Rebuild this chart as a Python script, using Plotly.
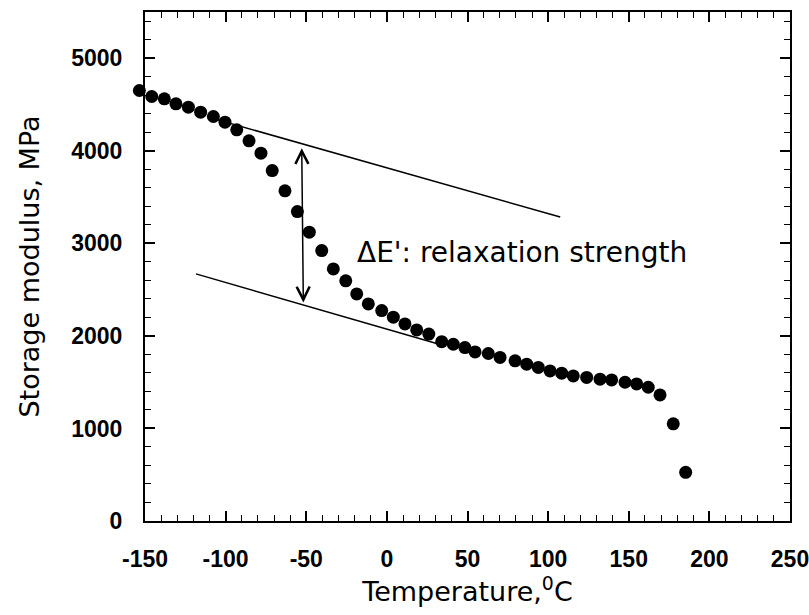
import plotly.graph_objects as go

# ---- data ----
temperature_c = [-153.5, -145.8, -138.0, -130.8, -123.1, -115.5, -107.6, -100.4, -93.1, -85.5,
                 -78.1, -71.1, -63.2, -55.5, -48.1, -40.4, -33.2, -25.5, -18.7, -11.5,
                 -3.2, 4.0, 11.2, 18.5, 26.0, 34.0, 41.2, 48.4, 54.7, 62.9,
                 70.2, 79.5, 86.7, 93.9, 101.2, 108.4, 115.6, 123.9, 132.2, 139.4,
                 147.7, 154.9, 162.1, 169.4, 177.6, 185.3]
storage_modulus = [4652, 4587, 4562, 4508, 4472, 4418, 4371, 4310, 4227, 4108,
                   3975, 3787, 3568, 3344, 3121, 2922, 2724, 2595, 2454, 2346,
                   2274, 2202, 2130, 2065, 2020, 1938, 1910, 1874, 1827, 1810,
                   1767, 1731, 1695, 1659, 1622, 1597, 1568, 1551, 1532, 1524,
                   1499, 1481, 1445, 1362, 1050, 526]

upper_tangent_t = [-107.0, 107.5]
upper_tangent_e = [4345, 3285]
lower_tangent_t = [-118.4, 33.0]
lower_tangent_e = [2670, 1908]

arrow_t = [-52.8, -51.8]
arrow_e = [4029, 2346]

x_tick_vals = [-150, -100, -50, 0, 50, 100, 150, 200, 250]
x_tick_text = ["-150", "-100", "-50", "0", "50", "100", "150", "200", "250"]
y_tick_vals = [0, 1000, 2000, 3000, 4000, 5000]
y_tick_text = ["0", "1000", "2000", "3000", "4000", "5000"]

annotation_text = "\u0394E': relaxation strength"
x_title = "Temperature,<sup>0</sup>C"
y_title = "Storage modulus, MPa"

# ---- layout geometry ----
W, H = 809, 615
ML, MR, MT, MB = 135, 19, 12, 94
plot_w = W - ML - MR
axis_left_px = 10                      # main axis starts 10 px into the plotting region
x_lo, x_hi = -150, 250
px_per_deg = (plot_w - axis_left_px) / (x_hi - x_lo)
x2_lo = x_lo - axis_left_px / px_per_deg   # same scale, extended left so the first marker shows

fig = go.Figure()

fig.add_trace(go.Scatter(x=upper_tangent_t, y=upper_tangent_e, mode="lines",
                         line=dict(color="black", width=1.5), showlegend=False))
fig.add_trace(go.Scatter(x=lower_tangent_t, y=lower_tangent_e, mode="lines",
                         line=dict(color="black", width=1.5), showlegend=False))
fig.add_trace(go.Scatter(x=temperature_c, y=storage_modulus, mode="markers", xaxis="x2",
                         marker=dict(color="black", size=13, symbol="circle"),
                         cliponaxis=False, showlegend=False))

fig.add_annotation(x=arrow_t[0], y=arrow_e[0], ax=arrow_t[1], ay=arrow_e[1],
                   xref="x", yref="y", axref="x", ayref="y", text="",
                   showarrow=True, arrowhead=5, startarrowhead=5, arrowside="end+start",
                   arrowsize=1.7, startarrowsize=1.7, arrowwidth=1.5, arrowcolor="black")

fig.add_annotation(x=-19.5, y=2900, xref="x", yref="y", text=annotation_text,
                   showarrow=False, xanchor="left", yanchor="middle",
                   font=dict(family="DejaVu Sans", size=28, color="black"))

tick_font = dict(family="Liberation Sans", size=23, color="black", weight="bold")

fig.update_layout(
    xaxis=dict(domain=[axis_left_px / plot_w, 1], range=[x_lo, x_hi], automargin=False,
               tickmode="array", tickvals=x_tick_vals, ticktext=x_tick_text,
               ticks="inside", ticklen=10, tickwidth=1.5, tickcolor="black",
               minor=dict(dtick=10, tick0=0, ticks="inside", ticklen=6, tickwidth=1.2, tickcolor="black"),
               showline=True, linewidth=2, linecolor="black", mirror="ticks",
               showgrid=False, zeroline=False, tickfont=tick_font, ticklabelstandoff=16,
               ticklabeloverflow="allow",
               title=dict(text=x_title, standoff=10,
                          font=dict(family="DejaVu Sans", size=27, color="black"))),
    xaxis2=dict(domain=[0, 1], range=[x2_lo, x_hi], visible=False,
                anchor="y", automargin=False, showgrid=False, zeroline=False),
    yaxis=dict(range=[0, 5500], anchor="x", automargin=False,
               tickmode="array", tickvals=y_tick_vals, ticktext=y_tick_text,
               ticks="inside", ticklen=10, tickwidth=1.5, tickcolor="black",
               minor=dict(dtick=200, tick0=0, ticks="inside", ticklen=6, tickwidth=1.2, tickcolor="black"),
               showline=True, linewidth=2, linecolor="black", mirror="ticks",
               showgrid=False, zeroline=False, tickfont=tick_font, ticklabelstandoff=16,
               title=dict(text=y_title, standoff=24,
                          font=dict(family="DejaVu Sans", size=27, color="black"))),
    width=W, height=H, margin=dict(l=ML, r=MR, t=MT, b=MB, pad=0, autoexpand=False),
    plot_bgcolor="rgba(0,0,0,0)", paper_bgcolor="white",
)

fig.write_html("out.html")
